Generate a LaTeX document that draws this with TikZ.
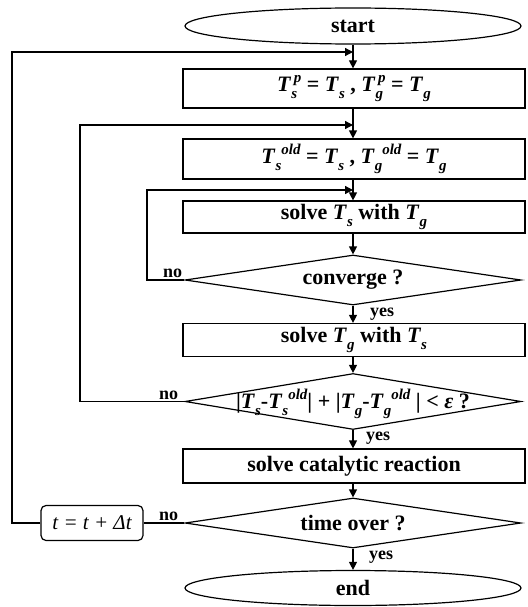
\documentclass[tikz,border=0pt]{standalone}
\usepackage{fontspec}
\setmainfont{Liberation Serif}
\usetikzlibrary{shapes.geometric,arrows.meta}
\newcommand{\subsz}{\fontsize{15}{15}\selectfont}
\newcommand{\Tsub}[1]{\textit{T}\raisebox{-0.3em}{\subsz\itshape #1}}
\newcommand{\Tss}[2]{\textit{T}\rlap{\raisebox{-0.3em}{\subsz\itshape #1}}\raisebox{0.42em}{\subsz\itshape\,#2}}
\newcommand{\Tsold}[1]{\textit{T}\raisebox{-0.3em}{\subsz\itshape #1}\raisebox{0.42em}{\subsz\itshape old}}
\begin{document}
\begin{tikzpicture}[x=1pt,y=-1pt,
  every node/.style={font=\fontsize{22}{24}\selectfont\bfseries},
  term/.style={draw,ellipse,line width=1.2pt,minimum width=336pt,inner sep=0pt},
  proc/.style={draw,rectangle,line width=1.2pt,minimum width=342pt,inner sep=0pt},
  dec/.style={draw,diamond,line width=1.2pt,minimum width=336pt,inner sep=0pt},
  txt/.style={inner sep=0pt},
  lab/.style={inner sep=1pt,font=\fontsize{18}{20}\selectfont\bfseries},
  line/.style={line width=1.2pt},
  arr/.style={line width=1.2pt,-{Triangle[length=8pt,width=8pt]}}]
\useasboundingbox (0,0) rectangle (527,607);
\node[term,minimum height=36pt] (start) at (353,26) {start};
\node[proc,minimum height=39pt] (b1) at (354,88.5) {\Tss{s}{p}\ = \Tsub{s} , \Tss{g}{p}\ = \Tsub{g}};
\node[proc,minimum height=40pt] (b2) at (354,159) {\Tsold{s}\ = \Tsub{s} , \Tsold{g}\ = \Tsub{g}};
\node[proc,minimum height=32pt] (b3) at (354,217) {solve \Tsub{s} with \Tsub{g}};
\node[dec,minimum height=50pt] (d1) at (353,280) {};
\node[txt] (d1t) at (d1.center) {converge ?};
\node[proc,minimum height=33pt] (b4) at (354,340) {solve \Tsub{g} with \Tsub{s}};
\node[dec,minimum height=56pt] (d2) at (353,401.5) {};
\node[txt,font=\fontsize{22}{24}\selectfont\bfseries] (d2t) at ([yshift=-2pt]d2.center) {|\Tsub{s}-\Tsold{s}| + |\Tsub{g}-\Tsold{g} | < \textit{ε} ?};
\node[proc,minimum height=34pt] (b5) at (354,466) {solve catalytic reaction};
\node[dec,minimum height=50pt] (d3) at (353,523) {};
\node[txt] (d3t) at (d3.center) {time over ?};
\node[term,minimum height=35pt] (end) at (353,588) {end};
\node[draw,line width=1.2pt,rounded corners=5pt,minimum width=102pt,minimum height=35pt,inner sep=0pt,font=\fontsize{21}{23}\selectfont\itshape] (tb) at (92,523) {t = t + Δt};
% main flow
\draw[arr] (start.south) -- (start.south |- b1.north);
\draw[arr] (start.south |- b1.south) -- (start.south |- b2.north);
\draw[arr] (start.south |- b2.south) -- (start.south |- b3.north);
\draw[arr] (start.south |- b3.south) -- (d1.north);
\draw[arr] (d1.south) -- (d1.south |- b4.north);
\draw[arr] (start.south |- b4.south) -- (d2.north);
\draw[arr] (d2.south) -- (d2.south |- b5.north);
\draw[arr] (start.south |- b5.south) -- (d3.north);
\draw[arr] (d3.south) -- (end.north);
% loops
\coordinate (L1) at (12,52);
\coordinate (L2) at (80,125);
\coordinate (L3) at (147,190);
\draw[line] (d3.west) -- (tb.east);
\draw[arr] (tb.west) -| (L1) -- (L1 -| start.south);
\draw[arr] (d2.west) -| (L2) -- (L2 -| start.south);
\draw[arr] (d1.west) -| (L3) -- (L3 -| start.south);
% labels
\node[lab,anchor=south east] (n1) at ([xshift=-1pt,yshift=1pt]d1.west) {no};
\node[lab,anchor=south east] (n2) at ([xshift=-5pt,yshift=1pt]d2.west) {no};
\node[lab,anchor=south east] (n3) at ([xshift=-5pt,yshift=1pt]d3.west) {no};
\node[lab,anchor=north west] (y1) at ([xshift=16pt,yshift=-1pt]d1.south) {yes};
\node[lab,anchor=north west] (y2) at ([xshift=12pt,yshift=-1pt]d2.south) {yes};
\node[lab,anchor=north west] (y3) at ([xshift=15pt,yshift=-1pt]d3.south) {yes};
\end{tikzpicture}
\end{document}
